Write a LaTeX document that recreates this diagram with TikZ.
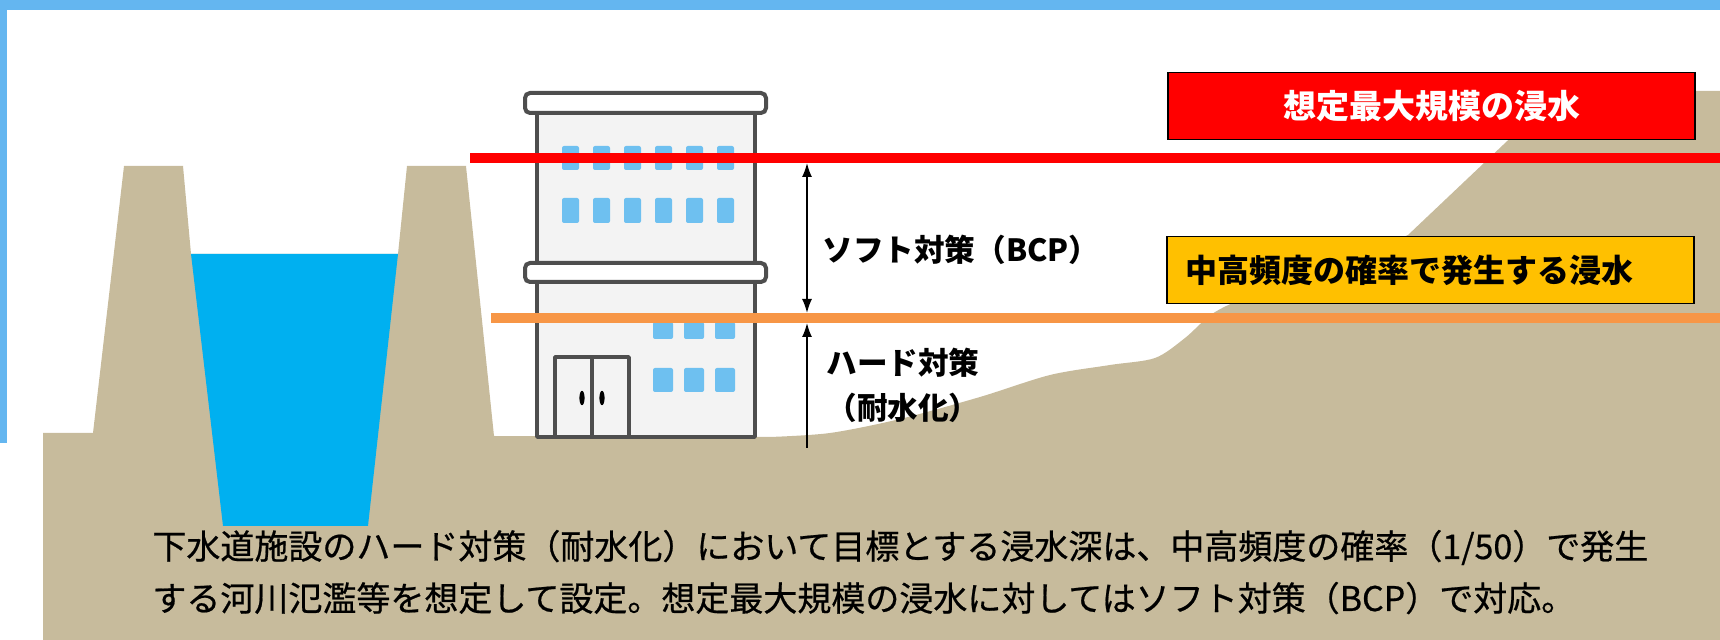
\documentclass[tikz,border=0pt]{standalone}
\usepackage{fontspec}
\setmainfont{Noto Sans CJK JP}
\newfontfamily\notefont{Noto Sans CJK JP}[FakeBold=0.6]
\usetikzlibrary{arrows.meta}

\definecolor{FrameBlue}{RGB}{100,182,240}
\definecolor{Soil}{RGB}{199,187,156}
\definecolor{River}{RGB}{0,176,240}
\definecolor{Pane}{RGB}{110,192,240}
\definecolor{Outline}{RGB}{78,78,78}
\definecolor{Wall}{RGB}{243,243,243}
\definecolor{MaxRed}{RGB}{255,0,0}
\definecolor{MidOrange}{RGB}{247,150,70}
\definecolor{MidYellow}{RGB}{255,192,0}

\newcommand{\BoxWidth}{263.5pt}
\newcommand{\BoxHeight}{33.5pt}

\tikzset{WallShape/.style={
    draw=Outline,
    line width=1.8pt,
    fill=Wall,
    line join=round
    }
}
\tikzset{SlabShape/.style={
    draw=Outline,
    line width=2pt,
    fill=white,
    rounded corners=2.5pt
    }
}
\tikzset{WindowPane/.style={
    fill=Pane,
    rounded corners=1pt
    }
}
\tikzset{RedLevel/.style={
    draw=MaxRed,
    line width=5pt
    }
}
\tikzset{OrangeLevel/.style={
    draw=MidOrange,
    line width=5pt
    }
}
\tikzset{DimArrow/.style={
    draw=black,
    line width=0.8pt,
    arrows={-Latex[length=7pt,width=5pt]}
    }
}
\tikzset{LabelText/.style={
    inner sep=0pt,
    font=\fontsize{15.3}{22.5}\selectfont\bfseries
    }
}
\tikzset{RedBox/.style={
    inner sep=0pt,
    minimum width=\BoxWidth,
    minimum height=\BoxHeight,
    draw=black,
    line width=0.7pt,
    fill=MaxRed,
    text=white,
    font=\fontsize{16.5}{20}\selectfont\bfseries
    }
}
\tikzset{YellowBox/.style={
    inner xsep=9pt,
    inner ysep=0pt,
    text width=\BoxWidth-18pt,
    minimum height=\BoxHeight,
    align=left,
    draw=black,
    line width=0.7pt,
    fill=MidYellow,
    font=\fontsize{16}{20}\selectfont\bfseries
    }
}
\tikzset{NoteText/.style={
    inner sep=0pt,
    anchor=base west,
    font=\notefont\fontsize{17}{26}\selectfont
    }
}

\begin{document}
\begin{tikzpicture}[x=0.5pt, y=-0.5pt]
    \useasboundingbox (0,0) rectangle (1720,640);

    % frame
    \fill[FrameBlue] (0,0) rectangle (1720,10);
    \fill[FrameBlue] (0,0) rectangle (7,443);

    % ground, levees and the hill
    \fill[Soil] (43,640) -- (43,433) -- (93,433) -- (124,166) -- (183,166)
        -- (191,254) -- (398,254) -- (407,166) -- (466,166) -- (494,436)
        -- plot[smooth, tension=0.5] coordinates {(770,437) (830,433) (900,419) (980,397)
            (1050,375) (1110,365) (1155,358) (1185,338) (1212,314) (1245,298)
            (1320,272) (1408,235)}
        -- (1560,91) -- (1720,91) -- (1720,640) -- cycle;

    % river
    \fill[River] (191,254) -- (398,254) -- (368,526) -- (223,526) -- cycle;

    % building
    \draw[WallShape] (537,113) rectangle (755,437);
    \draw[SlabShape] (525,93) rectangle (766,113);
    \draw[SlabShape] (525,263) rectangle (766,282);
    \foreach \wx in {562,593,624,655,686,717} {
        \fill[WindowPane] (\wx,146) rectangle ++(17,24);
        \fill[WindowPane] (\wx,198) rectangle ++(17,25);
    }
    \foreach \wx in {653,684,715} {
        \fill[WindowPane] (\wx,322) rectangle ++(20,17);
        \fill[WindowPane] (\wx,368) rectangle ++(20,24);
    }
    \draw[WallShape] (555,357) rectangle (629,437);
    \draw[draw=Outline, line width=1.6pt] (592,357) -- (592,437);
    \fill[black] (582,398) ellipse [x radius=1.3pt, y radius=3.6pt];
    \fill[black] (602,398) ellipse [x radius=1.3pt, y radius=3.6pt];

    % flood levels
    \draw[RedLevel] (470,158) -- (1720,158);
    \draw[OrangeLevel] (491,318) -- (1720,318);

    \coordinate (softtop) at (807,163);
    \coordinate (softbot) at (807,313);
    \coordinate (hardtop) at (807,323);
    \coordinate (hardbot) at (807,448);
    \draw[DimArrow, arrows={Latex[length=7pt,width=5pt]-Latex[length=7pt,width=5pt]}] (softtop) -- (softbot);
    \draw[DimArrow] (hardbot) -- (hardtop);

    \node (soft) [LabelText, anchor=west] at (822,250) {ソフト対策（BCP）};
    \node (hard) [LabelText, align=center] at (903,385) {ハード対策\\（耐水化）};

    \node (maxbox) [RedBox] at (1431.5,106) {想定最大規模の浸水};
    \node (midbox) [YellowBox] at (1430.5,270) {中高頻度の確率で発生する浸水};

    % note at the foot
    \node (note1) [NoteText] at (152,559) {下水道施設のハード対策（耐水化）において目標とする浸水深は、中高頻度の確率（1/50）で発生};
    \node (note2) [NoteText] at (152,611) {する河川氾濫等を想定して設定。想定最大規模の浸水に対してはソフト対策（BCP）で対応。};
\end{tikzpicture}
\end{document}
